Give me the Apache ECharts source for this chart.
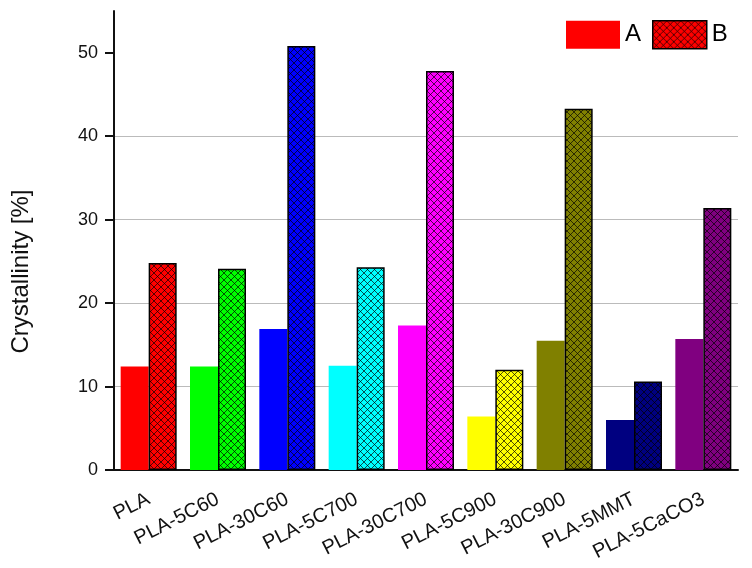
<!DOCTYPE html>
<html>
<head>
<meta charset="utf-8">
<script src="https://cdn.jsdelivr.net/npm/echarts@6/dist/echarts.min.js"></script>
<style>html,body{margin:0;padding:0;background:#fff;}#c{width:752px;height:568px;}</style>
</head>
<body>
<div id="c"></div>
<script>
const categories = ['PLA','PLA-5C60','PLA-30C60','PLA-5C700','PLA-30C700','PLA-5C900','PLA-30C900','PLA-5MMT','PLA-5CaCO3'];
const valuesA = [12.4, 12.4, 16.9, 12.5, 17.3, 6.4, 15.5, 6.0, 15.7];
const valuesB = [24.8, 24.1, 50.8, 24.3, 47.8, 12.0, 43.3, 10.6, 31.4];
const barColors = ['#ff0000','#00ff00','#0000ff','#00ffff','#ff00ff','#ffff00','#808000','#000080','#800080'];
const yTicks = [0, 10, 20, 30, 40, 50];

function hatch(color) {
  const s = 7;
  const c = document.createElement('canvas');
  c.width = s; c.height = s;
  const g = c.getContext('2d');
  g.fillStyle = color; g.fillRect(0, 0, s, s);
  g.strokeStyle = 'rgba(0,0,0,0.85)'; g.lineWidth = 0.8;
  g.beginPath();
  g.moveTo(0, 0); g.lineTo(s, s);
  g.moveTo(0, s); g.lineTo(s, 0);
  g.stroke();
  return { image: c, repeat: 'repeat' };
}

const chart = echarts.init(document.getElementById('c'), null, { renderer: 'canvas' });
const font = 'Liberation Sans, Arial, sans-serif';
chart.setOption({
  animation: false,
  backgroundColor: '#fff',
  grid: { left: 114, right: 14, top: 11, bottom: 98 },
  legend: {
    left: 561, top: 15, itemWidth: 54, itemHeight: 28, itemGap: 11, icon: 'rect',
    textStyle: { fontSize: 24, fontFamily: font, color: '#000', padding: [0, 0, 0, 0] },
    data: [
      { name: 'A', itemStyle: { color: '#ff0000', borderWidth: 0 } },
      { name: 'B', itemStyle: { color: hatch('#ff0000'), borderColor: '#000', borderWidth: 1.5 } }
    ]
  },
  xAxis: {
    type: 'category', data: categories,
    axisLine: { lineStyle: { color: '#111', width: 2 } },
    axisTick: { show: false },
    axisLabel: { rotate: 27, fontSize: 20, fontFamily: font, color: '#111', margin: 28, interval: 0 }
  },
  yAxis: {
    type: 'value', min: 0, max: 55, interval: 10,
    name: 'Crystallinity [%]', nameLocation: 'middle', nameGap: 81,
    nameTextStyle: { fontSize: 24, fontFamily: font, color: '#111', padding: [0, 62, 0, 0] },
    axisLine: { show: true, lineStyle: { color: '#111', width: 2 } },
    axisTick: { show: true, inside: false, length: 9, customValues: yTicks, lineStyle: { color: '#111', width: 2 } },
    axisLabel: { fontSize: 18, fontFamily: font, color: '#111', margin: 16, customValues: yTicks,
      formatter: function (v) { return yTicks.indexOf(v) >= 0 ? String(v) : ''; } },
    splitLine: { show: true, showMaxLine: false, showMinLine: false, lineStyle: { color: '#bbbbbb', width: 1 } }
  },
  series: [
    {
      name: 'A', type: 'bar', barWidth: 28, barGap: '0%',
      itemStyle: { color: '#ff0000' },
      data: valuesA.map((v, i) => ({ value: v, itemStyle: { color: barColors[i] } }))
    },
    {
      name: 'B', type: 'bar', barWidth: 28, barGap: '0%',
      itemStyle: { color: hatch('#ff0000'), borderColor: '#000', borderWidth: 1.5 },
      data: valuesB.map((v, i) => ({ value: v, itemStyle: { color: hatch(barColors[i]), borderColor: '#000', borderWidth: 1.5 } }))
    }
  ]
});
</script>
</body>
</html>
